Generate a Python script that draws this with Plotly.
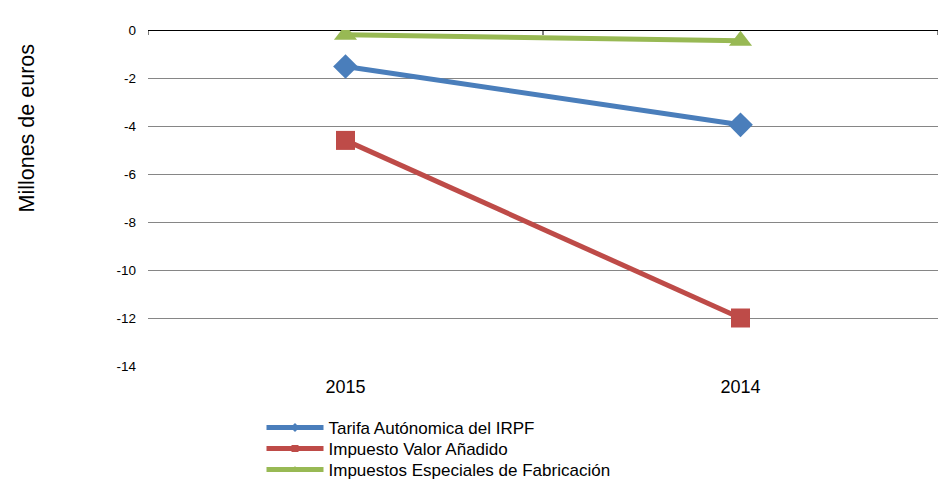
import plotly.graph_objects as go

categories = ["2015", "2014"]
irpf = [-1.52, -3.95]
iva = [-4.6, -12.0]
ief = [-0.2, -0.45]
series_names = ["Tarifa Autónomica del IRPF", "Impuesto Valor Añadido", "Impuestos Especiales de Fabricación"]
y_ticks = [0, -2, -4, -6, -8, -10, -12, -14]

# plot area target: x 148..938, y 30..366 in the window (body margin removed below)
L, T, R, B = 148, 30, 0, 122
W, H = 938, 488
plot_h = H - T - B
plot_w = W - L - R

fig = go.Figure()
styles = [
    (irpf, "#4A7EBB", "diamond", 19),
    (iva, "#BE4B48", "square", 19),
    (ief, "#98B954", "triangle-up", 20),
]
legend_ids = ["legend", "legend2", "legend3"]
for name, (vals, col, sym, sz), lid in zip(series_names, styles, legend_ids):
    fig.add_trace(go.Scatter(
        x=categories, y=vals, name=name, mode="lines+markers",
        line=dict(color=col, width=5),
        marker=dict(symbol=sym, size=sz, color=col),
        showlegend=False, legendgroup=name,
    ))
    # legend-only entry with the small marker used in the legend
    fig.add_trace(go.Scatter(
        x=[None], y=[None], name=name, mode="lines+markers",
        line=dict(color=col, width=5),
        marker=dict(symbol=sym, size=7, color=col),
        showlegend=True, legendgroup=name, legend=lid,
    ))

row_y = [428, 449, 470]  # window coords of legend rows
legend_x = (261.5 - L) / plot_w
legend_common = dict(xanchor="left", yanchor="middle", font=dict(size=17),
                     itemwidth=57, bgcolor="rgba(0,0,0,0)", borderwidth=0)
layout_legends = {}
for lid, ry in zip(legend_ids, row_y):
    layout_legends[lid] = dict(x=legend_x, y=(H - B - ry) / plot_h, **legend_common)

fig.update_layout(
    width=W, height=H,
    margin=dict(l=L, r=R, t=T, b=B),
    paper_bgcolor="white", plot_bgcolor="white",
    font=dict(family="Liberation Sans, Arial, sans-serif", color="#000000", size=13.5),
    showlegend=True,
    xaxis=dict(
        type="category", range=[-0.5, 1.5], showgrid=False, showline=False,
        zeroline=False, ticks="", tickfont=dict(size=18), ticklabelstandoff=8,
    ),
    yaxis=dict(
        range=[-14, 0], tickvals=y_ticks, ticktext=[str(v) for v in y_ticks],
        showgrid=True, gridcolor="#868686", gridwidth=1,
        zeroline=True, zerolinecolor="#000000", zerolinewidth=1,
        showline=False, ticks="", tickfont=dict(size=13.5), ticklabelstandoff=11,
    ),
    annotations=[dict(
        text="Millones de euros", textangle=-90, xref="paper", yref="paper",
        x=(27 - L) / plot_w, y=(H - B - 127.5) / plot_h, xanchor="center", yanchor="middle",
        showarrow=False, font=dict(size=21.5, color="#000000"),
    )],
    shapes=[dict(type="line", xref="x", yref="paper", x0=xv, x1=xv, y0=1, y1=1 - 5 / plot_h,
                 line=dict(color="#000000", width=1)) for xv in (-0.5, 0.5, 1.5)],
    **layout_legends,
)
fig.write_html("out.html", config={"displayModeBar": False},
               post_script="document.body.style.margin='0';document.body.style.overflow='hidden';")
